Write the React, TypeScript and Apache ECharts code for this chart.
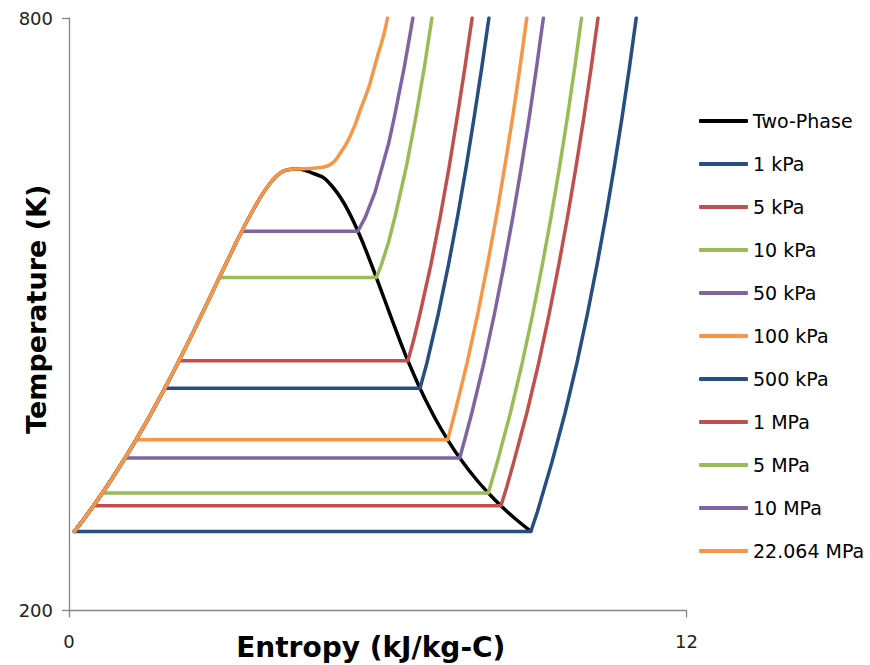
import React, { useEffect, useRef } from "react";
import * as echarts from "echarts";

// Legend / series names and colours
const seriesNames = [
  "Two-Phase",
  "1 kPa",
  "5 kPa",
  "10 kPa",
  "50 kPa",
  "100 kPa",
  "500 kPa",
  "1 MPa",
  "5 MPa",
  "10 MPa",
  "22.064 MPa",
];
const seriesColors = [
  "#000000",
  "#264E80",
  "#C0504D",
  "#9BBB59",
  "#8064A2",
  "#F79646",
  "#264E80",
  "#C0504D",
  "#9BBB59",
  "#8064A2",
  "#F79646",
];

// Axis ticks
const xTicks = [0, 12];
const yTicks = [200, 800];

// Saturated liquid line (T in K, s in kJ/kg-K), ascending T
const liqT = [280.1, 293.15, 306.0, 319.0, 333.15, 354.5, 372.8, 393.15, 413.15, 425.0, 433.15, 453.0, 473.15, 493.15, 513.15, 533.15, 537.1, 553.15, 573.15, 584.1, 593.15, 613.15, 623.15, 633.15, 638.9, 643.15, 645.9, 646.9, 647.1];
const liqS = [0.106, 0.297, 0.476, 0.649, 0.831, 1.091, 1.303, 1.528, 1.739, 1.861, 1.943, 2.139, 2.331, 2.518, 2.702, 2.885, 2.921, 3.069, 3.253, 3.36, 3.448, 3.659, 3.778, 3.915, 4.014, 4.111, 4.22, 4.32, 4.407];

// Saturated vapour line, from the critical point downwards
const vapT = [647.1, 646.8, 645.6, 643.15, 638.9, 633.15, 623.15, 613.15, 603.15, 593.15, 584.1, 573.15, 553.15, 537.1, 513.15, 493.15, 473.15, 453.0, 433.15, 425.0, 413.15, 393.15, 372.8, 354.5, 333.15, 319.0, 306.0, 293.15, 280.1];
const vapS = [4.407, 4.5, 4.6, 4.72, 4.927, 5.053, 5.211, 5.336, 5.441, 5.536, 5.614, 5.705, 5.857, 5.973, 6.144, 6.286, 6.432, 6.585, 6.75, 6.821, 6.93, 7.13, 7.359, 7.593, 7.908, 8.149, 8.394, 8.667, 8.975];

// Saturation state for each pressure
const tSat = [280.1, 306.0, 319.0, 354.5, 372.8, 425.0, 453.0, 537.1, 584.1, 647.1];
const sF = [0.106, 0.476, 0.649, 1.091, 1.303, 1.861, 2.139, 2.921, 3.36, 4.407];
const sG = [8.975, 8.394, 8.149, 7.593, 7.359, 6.821, 6.585, 5.973, 5.614, 4.407];

// Superheated / supercritical branches
const sh1kPaT = [300, 350, 400, 450, 500, 550, 600, 650, 700, 750, 800];
const sh1kPaS = [9.103, 9.384, 9.64, 9.868, 10.073, 10.261, 10.436, 10.598, 10.75, 10.891, 11.023];
const sh5kPaT = [325, 350, 400, 450, 500, 550, 600, 650, 700, 750, 800];
const sh5kPaS = [8.507, 8.641, 8.897, 9.125, 9.33, 9.518, 9.693, 9.855, 10.007, 10.148, 10.28];
const sh10kPaT = [350, 400, 450, 500, 550, 600, 650, 700, 750, 800];
const sh10kPaS = [8.321, 8.577, 8.805, 9.01, 9.198, 9.373, 9.535, 9.687, 9.828, 9.96];
const sh50kPaT = [375, 400, 450, 500, 550, 600, 650, 700, 750, 800];
const sh50kPaS = [7.7, 7.828, 8.059, 8.266, 8.455, 8.631, 8.793, 8.946, 9.086, 9.218];
const sh100kPaT = [400, 450, 500, 550, 600, 650, 700, 750, 800];
const sh100kPaS = [7.497, 7.733, 7.942, 8.132, 8.308, 8.47, 8.623, 8.764, 8.896];
const sh500kPaT = [450, 500, 550, 600, 650, 700, 750, 800];
const sh500kPaS = [6.952, 7.175, 7.374, 7.555, 7.721, 7.875, 8.022, 8.16];
const sh1MPaT = [473.15, 500, 550, 600, 650, 700, 750, 800];
const sh1MPaS = [6.694, 6.819, 7.032, 7.219, 7.39, 7.545, 7.694, 7.834];
const sh5MPaT = [550, 573.15, 600, 650, 700, 750, 800];
const sh5MPaS = [6.07, 6.211, 6.341, 6.558, 6.741, 6.905, 7.053];
const sh10MPaT = [598.15, 623.15, 650, 673.15, 700, 750, 800];
const sh10MPaS = [5.757, 5.944, 6.089, 6.212, 6.324, 6.515, 6.683];
const shCritT = [647.4, 648.2, 649.2, 650.8, 653.5, 657.5, 663, 671, 680, 692, 706, 719, 734, 749, 764, 776, 788, 800];
const shCritS = [4.6, 4.8, 4.95, 5.05, 5.13, 5.2, 5.27, 5.37, 5.46, 5.56, 5.654, 5.75, 5.85, 5.93, 6.01, 6.08, 6.14, 6.19];

const superT = [sh1kPaT, sh5kPaT, sh10kPaT, sh50kPaT, sh100kPaT, sh500kPaT, sh1MPaT, sh5MPaT, sh10MPaT, shCritT];
const superS = [sh1kPaS, sh5kPaS, sh10kPaS, sh50kPaS, sh100kPaS, sh500kPaS, sh1MPaS, sh5MPaS, sh10MPaS, shCritS];

function domeData(): number[][] {
  const pts: number[][] = [];
  liqT.forEach((t, i) => pts.push([liqS[i], t]));
  vapT.forEach((t, i) => {
    if (i > 0) pts.push([vapS[i], t]);
  });
  return pts;
}

function pressureData(k: number): number[][] {
  const pts: number[][] = [];
  liqT.forEach((t, i) => {
    if (t < tSat[k] - 0.01) pts.push([liqS[i], t]);
  });
  pts.push([sF[k], tSat[k]]);
  if (sG[k] !== sF[k]) pts.push([sG[k], tSat[k]]);
  superT[k].forEach((t, i) => pts.push([superS[k][i], t]));
  return pts;
}

const FONT = "DejaVu Sans";

export default function App() {
  const ref = useRef<HTMLDivElement>(null);
  useEffect(() => {
    if (!ref.current) return;
    const chart = echarts.init(ref.current, undefined, { renderer: "svg" });
    const last = seriesNames.length - 1;
    const series: any[] = seriesNames.map((name, idx) => ({
      name,
      type: "line",
      data: idx === 0 ? domeData() : pressureData(idx - 1),
      symbol: "none",
      showSymbol: false,
      smooth: idx === last || idx === 0 ? 0.25 : false,
      clip: true,
      lineStyle: { color: seriesColors[idx], width: 3.5, cap: "round", join: "round" },
      itemStyle: { color: seriesColors[idx] },
    }));
    chart.setOption({
      animation: false,
      backgroundColor: "#ffffff",
      grid: {
        left: 69,
        right: 183.5,
        top: 18,
        bottom: 54.5,
        containLabel: false,
        outerBoundsMode: "none",
      },
      legend: {
        orient: "vertical",
        left: 699,
        top: 111.5,
        padding: 0,
        icon: "roundRect",
        itemWidth: 49,
        itemHeight: 4,
        itemGap: 24,
        data: seriesNames,
        textStyle: { fontFamily: FONT, fontSize: 19, lineHeight: 19, color: "#000", padding: [0, 0, 0, 0] },
      },
      xAxis: {
        type: "value",
        min: 0,
        max: 12,
        name: "Entropy (kJ/kg-C)",
        nameLocation: "middle",
        nameGap: 23,
        nameMoveOverlap: false,
        nameTextStyle: { fontFamily: FONT, fontSize: 28, fontWeight: "bold", color: "#000", padding: [0, 14, 0, 0] },
        axisLine: { show: true, onZero: false, lineStyle: { color: "#868686", width: 1.3 } },
        axisTick: { show: true, inside: false, length: 7, customValues: xTicks, lineStyle: { color: "#868686", width: 1.3 } },
        axisLabel: { customValues: xTicks, margin: 22, fontFamily: FONT, fontSize: 18, color: "#222" },
        splitLine: { show: false },
      },
      yAxis: {
        type: "value",
        min: 200,
        max: 800,
        name: "Temperature (K)",
        nameLocation: "middle",
        nameGap: 19,
        nameMoveOverlap: false,
        nameRotate: 90,
        nameTextStyle: { fontFamily: FONT, fontSize: 27, fontWeight: "bold", color: "#000", padding: [0, 0, 0, 10] },
        axisLine: { show: true, onZero: false, lineStyle: { color: "#868686", width: 1.3 } },
        axisTick: { show: true, inside: false, length: 7, customValues: yTicks, lineStyle: { color: "#868686", width: 1.3 } },
        axisLabel: { customValues: yTicks, margin: 16, fontFamily: FONT, fontSize: 18, color: "#222" },
        splitLine: { show: false },
      },
      series,
    });
    return () => chart.dispose();
  }, []);
  return (
    <div
      ref={ref}
      style={{ position: "fixed", left: 0, top: 0, width: 870, height: 665, background: "#fff" }}
    />
  );
}
